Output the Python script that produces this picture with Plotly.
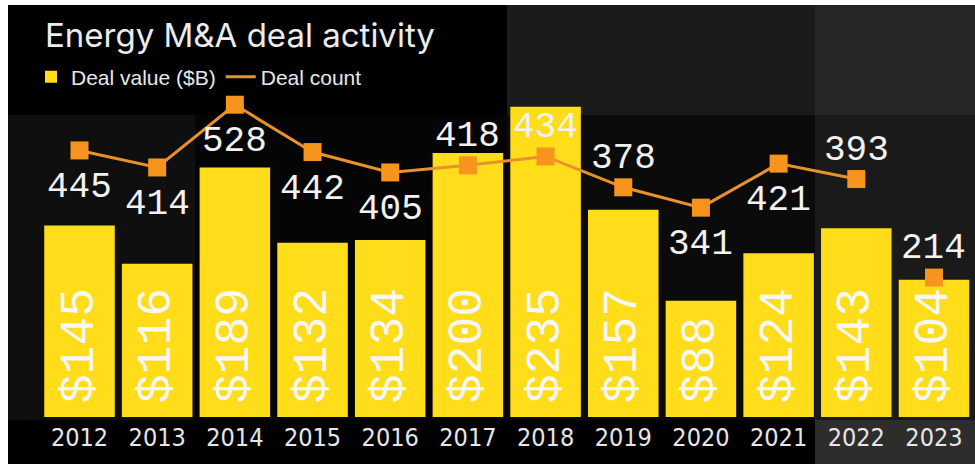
import plotly.graph_objects as go

years = ["2012", "2013", "2014", "2015", "2016", "2017", "2018", "2019", "2020", "2021", "2022", "2023"]
deal_value = [145, 116, 189, 132, 134, 200, 235, 157, 88, 124, 143, 104]
deal_count = [445, 414, 528, 442, 405, 418, 434, 378, 341, 421, 393, 214]
# label placement for deal-count numbers: +1 above the marker, -1 below
count_label_side = [-1, -1, -1, -1, -1, 1, 1, 1, -1, -1, 1, 1]

W, H = 975, 464
MB = 47
PH = H - MB  # plot area height in px

def py(p):
    """pixel y (from top of figure) -> paper y"""
    return (PH - p) / PH

def px(p):
    return p / W

YELLOW = "#FFDD1A"
ORANGE = "#F7941D"
LINE_ORANGE = "#E8922B"
MONO = "Liberation Mono, DejaVu Sans Mono, monospace"
SANS = "Liberation Sans, Arial, sans-serif"
NARROW = "Liberation Sans Narrow, DejaVu Sans Condensed, Arial Narrow, sans-serif"

fig = go.Figure()

pad = '<span style="font-size:18px">\u00a0</span>'
fig.add_trace(go.Bar(
    x=years, y=deal_value,
    name="Deal value ($B)",
    marker=dict(color=YELLOW, line=dict(width=0)),
    text=[f"{pad}${v}" for v in deal_value],
    textposition="inside",
    insidetextanchor="start",
    textangle=-90,
    insidetextfont=dict(family=MONO, size=48, color="#f7f7f7"),
    yaxis="y",
))

n_line = len(years) - 1
fig.add_trace(go.Scatter(
    x=years[:n_line], y=deal_count[:n_line],
    name="Deal count",
    mode="lines",
    line=dict(color=LINE_ORANGE, width=3),
    yaxis="y2",
))
fig.add_trace(go.Scatter(
    x=years, y=deal_count,
    name="Deal count",
    mode="markers",
    marker=dict(symbol="square", size=18, color=ORANGE, line=dict(width=0)),
    showlegend=False,
    yaxis="y2",
    cliponaxis=False,
))

# category axis: annotations are positioned by category index
for i, (c, side) in enumerate(zip(deal_count, count_label_side)):
    fig.add_annotation(
        x=i, y=c, xref="x", yref="y2",
        text=str(c), showarrow=False,
        yshift=29 if side > 0 else -37, yanchor="middle", xanchor="center",
        font=dict(family=MONO, size=36, color="#f2f2f2"),
    )

# background panels (photo-like backdrop)
panels = [
    (0, 0, W, 5, "#ffffff"),
    (0, 0, 8, H, "#ffffff"),
    (8, 115, 195, 420, "#0f0f0f"),
    (195, 115, 507, 420, "#050505"),
    (507, 5, 815, 115, "#1b1b1b"),
    (815, 5, W, 115, "#262626"),
    (507, 115, 815, 420, "#0b0b0b"),
    (815, 115, W, 420, "#1a1a1a"),
    (815, 420, W, H, "#2d2d2d"),
]
shapes = []
for x0, y0, x1, y1, col in panels:
    shapes.append(dict(
        type="rect", xref="paper", yref="paper",
        x0=px(x0), x1=px(x1), y0=py(y1), y1=py(y0),
        fillcolor=col, line=dict(width=0), layer="below",
    ))

hidden_axis = dict(showgrid=False, zeroline=False, showline=False,
                   showticklabels=False, ticks="", fixedrange=True)

fig.update_layout(
    width=W, height=H, autosize=False,
    margin=dict(l=0, r=0, t=0, b=MB, pad=0),
    paper_bgcolor="#000000",
    plot_bgcolor="rgba(0,0,0,0)",
    shapes=shapes,
    bargap=0.092,
    showlegend=True,
    title=dict(
        text="Energy M&A deal activity",
        x=45 / W, xanchor="left", xref="container",
        y=1 - 35 / H, yanchor="middle", yref="container",
        font=dict(family="Inter, Liberation Sans, sans-serif", size=33, color="#ececec"),
    ),
    legend=dict(
        orientation="h",
        x=px(31), xanchor="left",
        y=py(77), yanchor="middle",
        bgcolor="rgba(0,0,0,0)",
        font=dict(family=SANS, size=21, color="#e8e8e8"),
        itemwidth=30,
        traceorder="normal",
    ),
    xaxis=dict(
        type="category",
        range=[-1.0234, 11.528],
        showgrid=False, zeroline=False, showline=False,
        ticks="", ticklabelstandoff=3,
        tickfont=dict(family=NARROW, size=25, color="#e6e6e6"),
        fixedrange=True,
    ),
    yaxis=dict(range=[0, 315.8], **hidden_axis),
    yaxis2=dict(range=[-39.2, 718.2], overlaying="y", **hidden_axis),
)

fig.write_html(
    "out.html",
    config={"displayModeBar": False},
    post_script="document.body.style.margin='0px';document.body.style.overflow='hidden';",
)
